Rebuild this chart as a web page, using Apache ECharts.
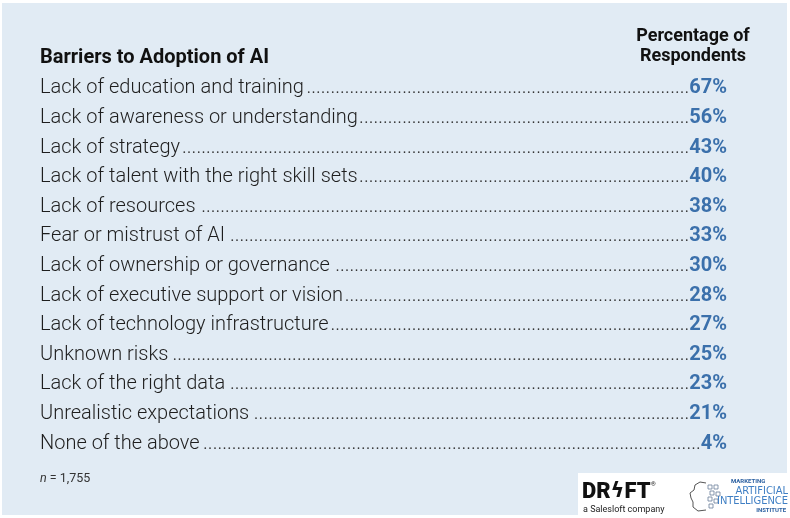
<!DOCTYPE html>
<html><head><meta charset="utf-8">
<script src="https://cdn.jsdelivr.net/npm/echarts@6/dist/echarts.min.js"></script>
<style>html,body{margin:0;padding:0;background:#fff}#c{width:790px;height:518px}</style>
</head><body><div id="c"></div>
<script>
const categories = [
  "Lack of education and training",
  "Lack of awareness or understanding",
  "Lack of strategy",
  "Lack of talent with the right skill sets",
  "Lack of resources",
  "Fear or mistrust of AI",
  "Lack of ownership or governance",
  "Lack of executive support or vision",
  "Lack of technology infrastructure",
  "Unknown risks",
  "Lack of the right data",
  "Unrealistic expectations",
  "None of the above"
];
const values = [67, 56, 43, 40, 38, 33, 30, 28, 27, 25, 23, 21, 4];
const titleText = "Barriers to Adoption of AI";
const valueHeader = ["Percentage of", "Respondents"];
const noteText = "n = 1,755";

const FONT = 'Roboto, "Noto Sans", sans-serif';
const LABEL_FONT = '300 20px ' + FONT;
const VALUE_FONT = 'bold 20px ' + FONT;
const meas = document.createElement('canvas').getContext('2d');
function tw(txt, font){ meas.font = font; return meas.measureText(txt).width; }

const brainParts = [];
brainParts.push({type:'polyline', shape:{points:[[706,483],[700,482],[695,485],[694,490],[690,493],[691,498],[693,502],[693,507],[698,511],[706,510]]}, style:{fill:'none', stroke:'#555', lineWidth:1}});
[[708,485],[714,485],[710,491],[716,492],[708,497],[714,499],[709,504]].forEach(p=>{
  brainParts.push({type:'rect', shape:{x:p[0], y:p[1], width:4, height:4}, style:{fill:'none', stroke:'#6a7f99', lineWidth:0.8}});
});

const chart = echarts.init(document.getElementById('c'), null, {renderer:'canvas'});
const GRID_L = 40, GRID_R = 63;
chart.setOption({
  animation: false,
  backgroundColor: '#ffffff',
  grid: {left: GRID_L, right: GRID_R, top: 73.7, bottom: 59.7},
  xAxis: {type: 'value', min: 0, max: 100, show: false},
  yAxis: {type: 'category', data: categories, inverse: true, show: false},
  graphic: [
    {type: 'rect', z: -10, shape: {x: 2, y: 3, width: 785, height: 512}, style: {fill: '#e1ebf4'}},
    {type: 'text', x: 40, y: 58, style: {text: titleText, font: 'bold 20px ' + FONT, fill: '#111', verticalAlign: 'middle'}},
    {type: 'text', x: 693, y: 36, style: {text: valueHeader[0], font: 'bold 18px ' + FONT, fill: '#111', align: 'center', verticalAlign: 'middle'}},
    {type: 'text', x: 693, y: 56, style: {text: valueHeader[1], font: 'bold 18px ' + FONT, fill: '#111', align: 'center', verticalAlign: 'middle'}},
    {type: 'text', x: 40, y: 479, style: {rich: {i: {fontStyle: 'italic', fontSize: 12.5, fontFamily: FONT, fill: '#333'}, r: {fontSize: 12.5, fontFamily: FONT, fill: '#333'}}, text: '{i|n}{r| = 1,755}', verticalAlign: 'middle'}},
    {type: 'rect', shape: {x: 578, y: 473, width: 212, height: 45}, style: {fill: '#ffffff'}},
    {type: 'text', x: 582, y: 492, style: {rich: {a: {fontSize: 22, fontWeight: 900, fontFamily: FONT, fill: '#111'}, b: {fontSize: 21, fontWeight: 'bold', fontFamily: '"DejaVu Sans"', fill: '#111'}}, text: '{a|DR}{b|\u03DF}{a|FT}', verticalAlign: 'middle'}},
    {type: 'text', x: 651, y: 484, style: {text: '\u00AE', font: '6px ' + FONT, fill: '#111', verticalAlign: 'middle'}},
    {type: 'text', x: 583, y: 510, style: {text: 'a Salesloft company', font: '9px ' + FONT, fill: '#222', verticalAlign: 'middle'}},
    {type: 'group', children: brainParts},
    {type: 'text', x: 731, y: 481, style: {text: 'MARKETING', font: 'bold 6px ' + FONT, fill: '#2a5fa0', verticalAlign: 'middle'}},
    {type: 'text', x: 788, y: 491, style: {text: 'ARTIFICIAL', font: '11px "DejaVu Sans Condensed", ' + FONT, fill: '#3f7fc4', align: 'right', verticalAlign: 'middle'}},
    {type: 'text', x: 788, y: 501, style: {text: 'INTELLIGENCE', font: '11px "DejaVu Sans Condensed", ' + FONT, fill: '#3f7fc4', align: 'right', verticalAlign: 'middle'}},
    {type: 'text', x: 786, y: 510, style: {text: 'INSTITUTE', font: 'bold 6px ' + FONT, fill: '#2a5fa0', align: 'right', verticalAlign: 'middle'}}
  ],
  series: [{
    type: 'custom',
    coordinateSystem: 'cartesian2d',
    encode: {x: 0, y: 1},
    data: values.map((v, i) => [v, i]),
    renderItem: function(params, api){
      const idx = api.value(1);
      const v = api.value(0);
      const y = api.coord([0, idx])[1];
      const cs = params.coordSys;
      const left = cs.x, right = cs.x + cs.width;
      const label = categories[idx];
      const valTxt = v + '%';
      const lw = tw(label, LABEL_FONT);
      const vw = tw(valTxt, VALUE_FONT);
      const dotW = tw('.', LABEL_FONT);
      const avail = (right - vw) - (left + lw + 1);
      const n = Math.max(0, Math.floor(avail / dotW));
      return {type: 'group', children: [
        {type: 'text', x: left, y: y, style: {text: label, font: LABEL_FONT, fill: '#1e1e1e', verticalAlign: 'middle'}},
        {type: 'text', x: right - vw, y: y, style: {text: '.'.repeat(n), font: LABEL_FONT, fill: '#333', align: 'right', verticalAlign: 'middle'}},
        {type: 'text', x: right, y: y, style: {text: valTxt, font: VALUE_FONT, fill: '#3b70ab', align: 'right', verticalAlign: 'middle'}}
      ]};
    }
  }]
});
</script></body></html>
